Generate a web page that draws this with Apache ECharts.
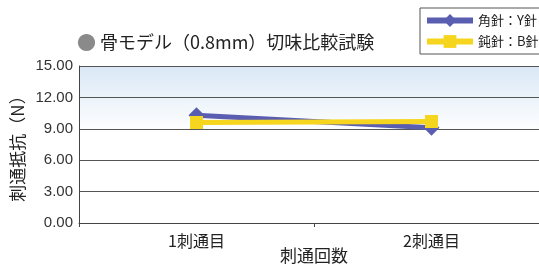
<!DOCTYPE html>
<html>
<head>
<meta charset="utf-8">
<script src="https://cdn.jsdelivr.net/npm/echarts@6/dist/echarts.min.js"></script>
<style>
html, body { margin: 0; padding: 0; background: #fff; }
#chart { width: 539px; height: 265px; }
</style>
</head>
<body>
<div id="chart"></div>
<script>
const categories = ['1刺通目', '2刺通目']
const yNeedle = [10.3, 9.1]   // 角針：Y針
const bNeedle = [9.6, 9.7]    // 鈍針：B針
const yTicks = [0, 3, 6, 9, 12, 15]

const font = '"Noto Sans CJK JP", "Noto Sans", sans-serif'

const chart = echarts.init(document.getElementById('chart'))
const option = {
    animation: false,
    textStyle: { fontFamily: font },
    title: {
        text: '{dot|●} 骨モデル（0.8mm）切味比較試験',
        left: 72,
        top: 28,
        textStyle: {
            fontFamily: font,
            fontSize: 18,
            fontWeight: 'normal',
            color: '#222',
            rich: {
                dot: { color: '#8a8a8a', fontSize: 19 }
            }
        }
    },
    legend: {
        orient: 'vertical',
        left: 420,
        top: 8,
        itemWidth: 46,
        itemHeight: 16,
        itemGap: 8,
        padding: [6, 6, 6, 4],
        borderColor: '#555',
        borderWidth: 1,
        lineStyle: { width: 6 },
        textStyle: { fontFamily: font, fontSize: 13, color: '#222' },
        data: ['角針：Y針', '鈍針：B針']
    },
    grid: {
        left: 79,
        top: 66,
        width: 470,
        height: 157,
        outerBoundsMode: 'none',
        containLabel: false,
        show: true,
        borderWidth: 0,
        backgroundColor: new echarts.graphic.LinearGradient(0, 0, 0, 1, [
            { offset: 0, color: '#d9e8f5' },
            { offset: 0.42, color: '#ffffff' },
            { offset: 1, color: '#ffffff' }
        ])
    },
    xAxis: {
        type: 'category',
        data: categories,
        boundaryGap: true,
        name: '刺通回数',
        nameLocation: 'middle',
        nameMoveOverlap: false,
        nameGap: 24,
        nameTextStyle: { fontFamily: font, fontSize: 17, color: '#222' },
        axisLine: { lineStyle: { color: '#444', width: 1 } },
        axisTick: { show: true, alignWithLabel: false, length: 4, lineStyle: { color: '#444' } },
        axisLabel: { fontFamily: font, fontSize: 16, color: '#222', margin: 10 },
        splitLine: { show: false }
    },
    yAxis: {
        type: 'value',
        min: yTicks[0],
        max: yTicks[yTicks.length - 1],
        interval: 3,
        name: '刺通抵抗（N）',
        nameLocation: 'middle',
        nameMoveOverlap: false,
        nameRotate: 90,
        nameGap: 53,
        nameTextStyle: { fontFamily: font, fontSize: 17, color: '#222' },
        axisLine: { show: true, lineStyle: { color: '#444' } },
        axisTick: { show: false },
        axisLabel: {
            fontFamily: 'Liberation Sans, sans-serif',
            fontSize: 15,
            color: '#333',
            margin: 6,
            formatter: v => v.toFixed(2)
        },
        splitLine: { lineStyle: { color: '#555', width: 1 } }
    },
    series: [
        {
            name: '角針：Y針',
            type: 'line',
            data: yNeedle,
            symbol: 'diamond',
            symbolSize: [16, 16],
            lineStyle: { color: '#5a5eb0', width: 5 },
            itemStyle: { color: '#5a5eb0' },
            z: 2
        },
        {
            name: '鈍針：B針',
            type: 'line',
            data: bNeedle,
            symbol: 'rect',
            symbolSize: [13, 13],
            lineStyle: { color: '#f6d51e', width: 5 },
            itemStyle: { color: '#f6d51e' },
            z: 3
        }
    ]
}
chart.setOption(option)
</script>
</body>
</html>
